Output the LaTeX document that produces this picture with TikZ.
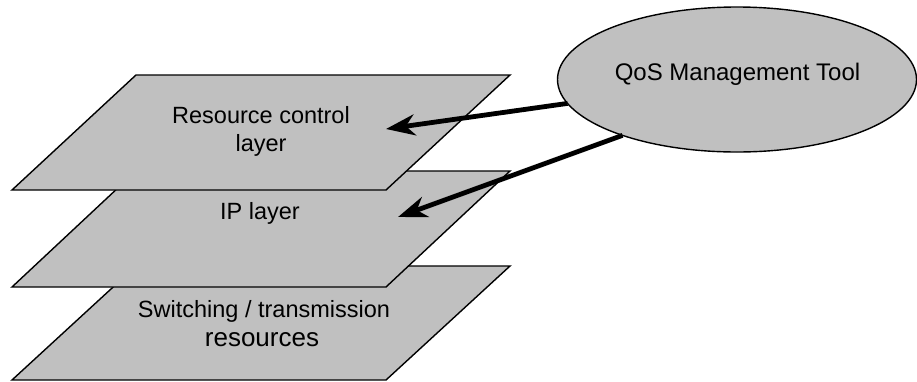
\documentclass[tikz,border=0pt]{standalone}
\usepackage{fontspec}
\setmainfont{Liberation Sans}
\usetikzlibrary{shapes.geometric,arrows.meta}
\definecolor{layerfill}{RGB}{192,192,192}
\tikzset{
  layer/.style={draw=black, fill=layerfill, line width=1.4pt, line join=miter},
  lbl/.style={anchor=base, inner sep=0pt, outer sep=0pt, font=\fontsize{23.5}{28}\selectfont},
  biglbl/.style={lbl, font=\fontsize{26}{30}\selectfont},
  tool/.style={ellipse, draw=black, fill=layerfill, line width=1.4pt,
    minimum width=359pt, minimum height=145pt, inner sep=0pt, outer sep=0pt},
  link/.style={line width=4.8pt, -{Stealth[length=29pt,width=21pt,inset=9pt]}},
}
\begin{document}
\begin{tikzpicture}[x=1pt,y=-1pt]
\useasboundingbox (0,0) rectangle (917,381);

% stacked layers, drawn from the bottom up
\path[layer] (136,266) -- (510,266) -- (386,380) -- (12,380) -- cycle;
\path[layer] (136,171) -- (510,171) -- (386,287) -- (12,287) -- cycle;
\path[layer] (136,75) -- (510,75) -- (386,190) -- (12,190) -- cycle;

% layer captions
\node[lbl] (rc1) at (261,123) {Resource control};
\node[lbl] (rc2) at (261,151) {layer};
\node[lbl] (ip) at (260,219) {IP layer};
\node[lbl] (sw1) at (264,317) {Switching / transmission};
\node[biglbl] (sw2) at (262,346) {resources};

% arrow targets inside the layers
\coordinate (tip1) at (386,129);
\coordinate (tip2) at (398,217);

% management tool
\node[tool] (qos) at (737,79.5) {};
\node[lbl, font=\fontsize{24}{28}\selectfont] (qostxt) at (737.5,80) {QoS Management Tool};

\draw[link] (qos) -- (tip1);
\draw[link] (qos.206) -- (tip2);
\end{tikzpicture}
\end{document}
